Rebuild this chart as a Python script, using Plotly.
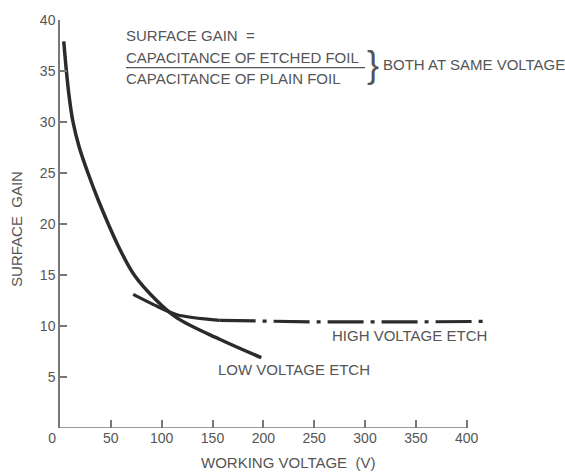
import plotly.graph_objects as go

# ---- data ----
low_voltage = [3.7, 6.3, 9.0, 12.8, 19, 27.5, 37, 47.5, 59, 73, 95, 115, 157, 198]
low_gain = [37.9, 35, 32.5, 30, 27.5, 25, 22.5, 20, 17.5, 15, 12.5, 10.8, 8.7, 6.9]

high_voltage_solid = [72, 92, 115, 157]
high_gain_solid = [13.1, 12.1, 11.1, 10.55]
high_voltage_dash = [157, 250, 340, 418]
high_gain_dash = [10.55, 10.4, 10.4, 10.45]

x_ticks = [0, 50, 100, 150, 200, 250, 300, 350, 400]
x_ticktext = ["0\u2007\u2007", "50", "100", "150", "200", "250", "300", "350", "400"]
y_ticks = [5, 10, 15, 20, 25, 30, 35, 40]

# ---- layout geometry ----
W, H = 565, 472
ML, MR, MT, MB = 60, 78, 16, 44
XR = [0, 420]
YR = [0, 40]
PW = W - ML - MR
PH = H - MT - MB


def xp(px):
    return (px - ML) / PW


def yp(py):
    return (H - MB - py) / PH


FONT = "Liberation Sans"
TXT = "#555555"
CURVE = "#2b2b2b"

fig = go.Figure()
fig.add_trace(go.Scatter(x=low_voltage, y=low_gain, mode="lines",
                         line=dict(color=CURVE, width=3.5, shape="spline", smoothing=1.0),
                         showlegend=False, hoverinfo="skip"))
fig.add_trace(go.Scatter(x=high_voltage_solid, y=high_gain_solid, mode="lines",
                         line=dict(color=CURVE, width=3.2, shape="spline", smoothing=0.8),
                         showlegend=False, hoverinfo="skip"))
fig.add_trace(go.Scatter(x=high_voltage_dash, y=high_gain_dash, mode="lines",
                         line=dict(color=CURVE, width=3.2, dash="36px,7px,4px,7px"),
                         showlegend=False, hoverinfo="skip"))

fig.update_layout(
    width=W, height=H,
    margin=dict(l=ML, r=MR, t=MT, b=MB, pad=0),
    paper_bgcolor="white", plot_bgcolor="white",
    font=dict(family=FONT, size=14, color=TXT),
    xaxis=dict(range=XR, tickvals=x_ticks, ticktext=x_ticktext, ticks="inside",
               ticklen=8, tickwidth=1.5, tickcolor="#777", showgrid=False,
               zeroline=False, showline=False, tickfont=dict(size=14, color=TXT)),
    yaxis=dict(range=YR, tickvals=y_ticks, ticks="inside", ticklen=7,
               tickwidth=1.5, tickcolor="#777", showgrid=False, zeroline=False,
               showline=True, linecolor="#777", linewidth=1.5,
               tickfont=dict(size=14, color=TXT)),
)

# x axis line (from 0 to 400 only)
fig.add_shape(type="line", xref="x", yref="y", x0=0, x1=400, y0=0, y1=0,
              line=dict(color="#777", width=1.5))
# underline of the fraction
fig.add_shape(type="line", xref="paper", yref="paper", x0=xp(126), x1=xp(365),
              y0=yp(64), y1=yp(64), line=dict(color=TXT, width=1.3))


def note(text, px, py, anchor="left", size=15, angle=0):
    fig.add_annotation(text=text, x=xp(px), y=yp(py), xref="paper", yref="paper",
                       xanchor=anchor, yanchor="middle", showarrow=False,
                       textangle=angle, font=dict(family=FONT, size=size, color=TXT))


note("SURFACE GAIN  =", 124, 32)
note("CAPACITANCE OF ETCHED FOIL", 124, 54)
note("CAPACITANCE OF PLAIN FOIL", 124, 75)
note("}", 373, 61, anchor="center", size=36)
note("BOTH AT SAME VOLTAGE", 381, 61)
note("HIGH VOLTAGE ETCH", 330, 335)
note("LOW VOLTAGE ETCH", 216, 369)
note("WORKING VOLTAGE  (V)", 288, 463, anchor="center")
note("SURFACE  GAIN", 17, 227, anchor="center", angle=-90)

fig.write_html("out.html")
